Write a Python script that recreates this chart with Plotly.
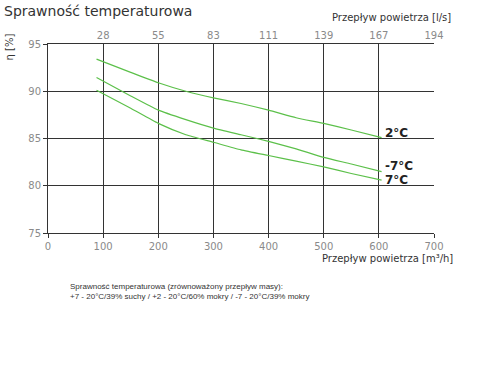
import plotly.graph_objects as go

flow_m3h = [88, 150, 200, 250, 300, 350, 400, 450, 500, 550, 605]
eff_2c = [93.4, 92.0, 90.9, 90.0, 89.3, 88.7, 88.0, 87.2, 86.6, 85.9, 85.1]
eff_m7c = [91.45, 89.5, 88.0, 87.0, 86.1, 85.4, 84.7, 83.9, 83.0, 82.3, 81.5]
eff_7c = [90.1, 88.2, 86.6, 85.4, 84.6, 83.8, 83.2, 82.6, 82.0, 81.3, 80.6]
series_names = ["2°C", "-7°C", "7°C"]
label_y = [85.55, 82.05, 80.65]

x_ticks = [0, 100, 200, 300, 400, 500, 600, 700]
top_ticks = [100, 200, 300, 400, 500, 600, 700]
top_labels = ["28", "55", "83", "111", "139", "167", "194"]
y_ticks = [75, 80, 85, 90, 95]

GREEN = "#5cc04a"
GRID = "#333333"
TICKC = "#8a8a8a"
FONT = "DejaVu Sans"

# body margin removed by post_script; plot area target: left 48, right 434, top 44, bottom 233
W, H = 480, 380
L, R, T, B = 48, W - 434, 44, H - 233
PW, PH = W - L - R, H - T - B


def px(xp, yp):
    """window pixel -> paper coords"""
    return (xp - L) / PW, (H - B - yp) / PH


fig = go.Figure()
for name, ys in zip(series_names, [eff_2c, eff_m7c, eff_7c]):
    fig.add_trace(go.Scatter(x=flow_m3h, y=ys, mode="lines", name=name,
                             line=dict(color=GREEN, width=1.2, shape="spline", smoothing=0.5),
                             showlegend=False))
fig.add_trace(go.Scatter(x=[0, 700], y=[75, 75], xaxis="x2", mode="lines",
                         line=dict(width=0), hoverinfo="skip", showlegend=False))

fig.update_layout(
    width=W, height=H,
    margin=dict(l=L, r=R, t=T, b=B),
    paper_bgcolor="white", plot_bgcolor="white",
    font=dict(family=FONT, size=10, color=TICKC),
    xaxis=dict(range=[0, 700], tickvals=x_ticks, showgrid=True, gridcolor=GRID, gridwidth=1,
               showline=True, linecolor=GRID, linewidth=1, ticks="outside", ticklen=4,
               tickcolor=GRID, zeroline=False, tickfont=dict(size=10, color=TICKC)),
    xaxis2=dict(range=[0, 700], overlaying="x", side="top", tickvals=top_ticks,
                ticktext=top_labels, showgrid=False, showline=True, linecolor=GRID,
                ticks="", zeroline=False, tickfont=dict(size=10, color=TICKC)),
    yaxis=dict(range=[75, 95], tickvals=y_ticks, showgrid=True, gridcolor=GRID, gridwidth=1,
               showline=True, linecolor=GRID, linewidth=1, ticks="outside", ticklen=4,
               tickcolor=GRID, zeroline=False, tickfont=dict(size=10, color=TICKC)),
)

for name, yv in zip(series_names, label_y):
    fig.add_annotation(x=608, y=yv, xref="x", yref="y", text="<b>" + name + "</b>",
                       showarrow=False, xanchor="left", yanchor="middle",
                       font=dict(family=FONT, size=12, color="#222222"))

tx, ty = px(2, 11)
fig.add_annotation(x=tx, y=ty, xref="paper", yref="paper", text="Sprawność temperaturowa",
                   showarrow=False, xanchor="left", yanchor="middle",
                   font=dict(family=FONT, size=14, color="#333333"))
ax_, ay_ = px(9, 32)
fig.add_annotation(x=ax_, y=ay_, xref="paper", yref="paper", text="η [%]",
                   textangle=-90, showarrow=False, xanchor="center", yanchor="top",
                   font=dict(family=FONT, size=10, color="#333333"))
bx, by = px(453, 17)
fig.add_annotation(x=bx, y=by, xref="paper", yref="paper",
                   text="Przepływ powietrza [l/s]", showarrow=False,
                   xanchor="right", yanchor="middle",
                   font=dict(family=FONT, size=10, color="#333333"))
cx, cy = px(455, 258)
fig.add_annotation(x=cx, y=cy, xref="paper", yref="paper",
                   text="Przepływ powietrza [m³/h]", showarrow=False,
                   xanchor="right", yanchor="middle",
                   font=dict(family=FONT, size=10, color="#333333"))
fx, fy = px(68, 291)
fig.add_annotation(x=fx, y=fy, xref="paper", yref="paper",
                   text="Sprawność temperaturowa (zrównoważony przepływ masy):<br>+7 - 20°C/39% suchy / +2 - 20°C/60% mokry / -7 - 20°C/39% mokry",
                   showarrow=False, xanchor="left", yanchor="middle", align="left",
                   font=dict(family="Liberation Sans", size=8, color="#333333"))

fig.write_html("out.html", config={"displayModeBar": False},
               post_script="document.body.style.margin='0px';")
